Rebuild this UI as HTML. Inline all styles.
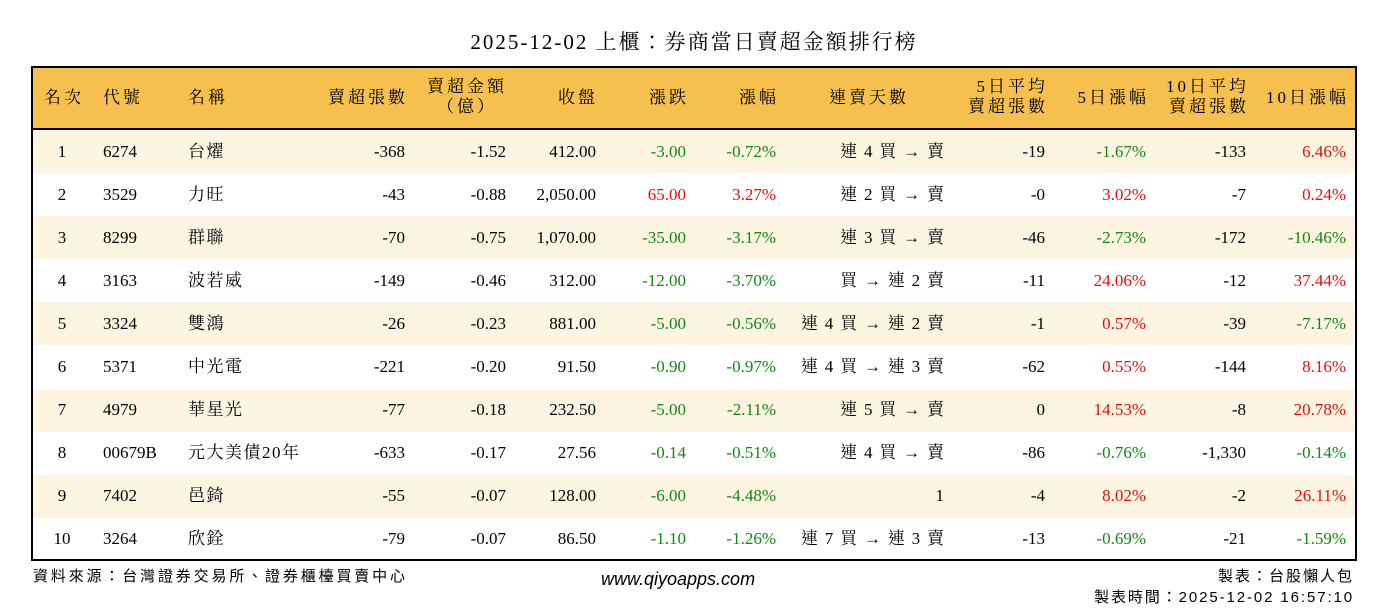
<!DOCTYPE html>
<html><head><meta charset="utf-8"><style>
body{margin:0;width:1388px;height:612px;background:#fff;position:relative;overflow:hidden;font-family:"Liberation Serif","Noto Serif CJK TC","Noto Serif CJK SC",serif;color:#000}
.t{position:absolute;white-space:nowrap;font-size:17px;line-height:20px}
.r{text-align:right}
.c{text-align:center}
.cj{letter-spacing:3px}
.r.cj{margin-right:-3px}
.dy{letter-spacing:1.3px;margin-right:-1.3px}
.g{color:#118811}.rd{color:#e01010}
.row{position:absolute;left:33px;width:1322px;height:43.1px}
.s{font-family:"Liberation Sans","Noto Sans CJK TC",sans-serif}
</style></head><body>
<div class="t c" style="left:0;width:1388px;top:30px;font-size:21px;line-height:24px;letter-spacing:2px">2025-12-02 上櫃：券商當日賣超金額排行榜</div>
<div style="position:absolute;left:31px;top:66px;width:1322px;height:491px;border:2px solid #000;"></div>
<div style="position:absolute;left:33px;top:68px;width:1322px;height:60px;background:#f6c04f;border-bottom:2px solid #000"></div>
<div id="rows"></div>
<div class="t cj" style="left:44px;top:88px">名次</div>
<div class="t cj" style="left:103px;top:88px">代號</div>
<div class="t cj" style="left:188px;top:88px">名稱</div>
<div class="t r cj" style="right:983px;top:88px">賣超張數</div>
<div class="t c cj" style="left:422px;width:90px;top:77px;line-height:20px">賣超金額<br>（億）</div>
<div class="t r cj" style="right:793px;top:88px">收盤</div>
<div class="t r cj" style="right:702px;top:88px">漲跌</div>
<div class="t r cj" style="right:612px;top:88px">漲幅</div>
<div class="t c cj" style="left:819px;width:100px;top:88px">連賣天數</div>
<div class="t r cj" style="right:343px;top:77px">5日平均<br>賣超張數</div>
<div class="t r cj" style="right:242px;top:88px">5日漲幅</div>
<div class="t r cj" style="right:142px;top:77px">10日平均<br>賣超張數</div>
<div class="t r cj" style="right:42px;top:88px">10日漲幅</div>
<div class="t s" style="left:33px;top:567px;font-size:15px;letter-spacing:2.85px">資料來源：台灣證券交易所、證券櫃檯買賣中心</div>
<div class="t s" style="left:601px;top:569px;font-size:18px;font-style:italic">www.qiyoapps.com</div>
<div class="t s r" style="right:34px;top:567px;font-size:15px;letter-spacing:2px">製表：台股懶人包</div>
<div class="t s r" style="right:34px;top:588px;font-size:15px;letter-spacing:1.9px">製表時間：2025-12-02 16:57:10</div>
<script>
const d=[
["1","6274","台燿","-368","-1.52","412.00","-3.00","-0.72%","連 4 買 → 賣","-19","-1.67%","-133","6.46%"],
["2","3529","力旺","-43","-0.88","2,050.00","65.00","3.27%","連 2 買 → 賣","-0","3.02%","-7","0.24%"],
["3","8299","群聯","-70","-0.75","1,070.00","-35.00","-3.17%","連 3 買 → 賣","-46","-2.73%","-172","-10.46%"],
["4","3163","波若威","-149","-0.46","312.00","-12.00","-3.70%","買 → 連 2 賣","-11","24.06%","-12","37.44%"],
["5","3324","雙鴻","-26","-0.23","881.00","-5.00","-0.56%","連 4 買 → 連 2 賣","-1","0.57%","-39","-7.17%"],
["6","5371","中光電","-221","-0.20","91.50","-0.90","-0.97%","連 4 買 → 連 3 賣","-62","0.55%","-144","8.16%"],
["7","4979","華星光","-77","-0.18","232.50","-5.00","-2.11%","連 5 買 → 賣","0","14.53%","-8","20.78%"],
["8","00679B","元大美債20年","-633","-0.17","27.56","-0.14","-0.51%","連 4 買 → 賣","-86","-0.76%","-1,330","-0.14%"],
["9","7402","邑錡","-55","-0.07","128.00","-6.00","-4.48%","1","-4","8.02%","-2","26.11%"],
["10","3264","欣銓","-79","-0.07","86.50","-1.10","-1.26%","連 7 買 → 連 3 賣","-13","-0.69%","-21","-1.59%"]];
const rt={3:405,4:506,5:596,6:686,7:776,8:944,9:1045,10:1146,11:1246,12:1346};
let h='';
const col=v=>v.startsWith('-')?'g':'rd';
d.forEach((r,i)=>{
 const top=130+43.1*i, ty=top+11.5;
 if(i%2==0)h+=`<div class="row" style="top:${top}px;background:#fdf4e2"></div>`;
 h+=`<div class="t c" style="left:42px;width:40px;top:${ty}px">${r[0]}</div>`;
 h+=`<div class="t" style="left:103px;top:${ty}px">${r[1]}</div>`;
 h+=`<div class="t" style="left:188px;top:${ty}px;letter-spacing:1.5px">${r[2]}</div>`;
 for(let k=3;k<=12;k++){
  let c='';
  if([6,7,10,12].includes(k))c=col(r[k]);
  if(k==8)c='dy';
  h+=`<div class="t r ${c}" style="right:${1388-rt[k]}px;top:${ty}px">${r[k]}</div>`;
 }
});
document.getElementById('rows').innerHTML=h;
</script>
</body></html>
